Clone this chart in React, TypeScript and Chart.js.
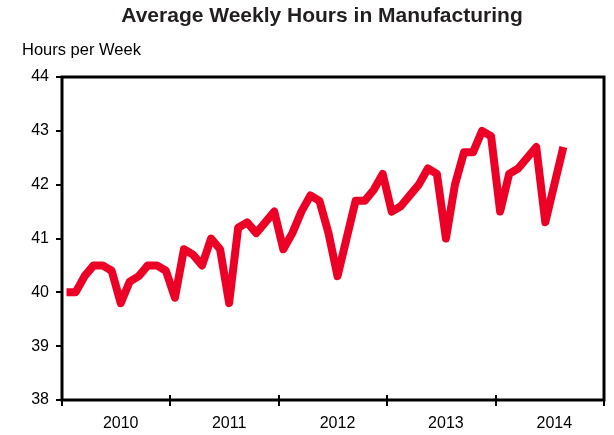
import React, { useEffect, useRef } from "react";
import { Chart, registerables } from "chart.js";

Chart.register(...registerables);

const years = ["2010", "2011", "2012", "2013", "2014"];
const monthNames = ["Jan", "Feb", "Mar", "Apr", "May", "Jun", "Jul", "Aug", "Sep", "Oct", "Nov", "Dec"];
const hours = [
  40.0, 40.0, 40.3, 40.5, 40.5, 40.4, 39.8, 40.2, 40.3, 40.5, 40.5, 40.4,
  39.9, 40.8, 40.7, 40.5, 41.0, 40.8, 39.8, 41.2, 41.3, 41.1, 41.3, 41.5,
  40.8, 41.1, 41.5, 41.8, 41.7, 41.1, 40.3, 41.0, 41.7, 41.7, 41.9, 42.2,
  41.5, 41.6, 41.8, 42.0, 42.3, 42.2, 41.0, 42.0, 42.6, 42.6, 43.0, 42.9,
  41.5, 42.2, 42.3, 42.5, 42.7, 41.3, 42.0, 42.7,
];
const yTicks = [38, 39, 40, 41, 42, 43, 44];
const titleText = "Average Weekly Hours in Manufacturing";
const yAxisTitle = "Hours per Week";

const monthLabels: string[] = [];
years.forEach((y) => monthNames.forEach((m) => monthLabels.push(m + " " + y)));

const FONT = "'Liberation Sans', Arial, Helvetica, sans-serif";

export default function App() {
  const ref = useRef<HTMLCanvasElement | null>(null);

  useEffect(() => {
    document.body.style.margin = "0";
    const canvas = ref.current;
    if (!canvas) return;

    const framePlugin = {
      id: "frameAndText",
      afterDraw(chart: any) {
        const { ctx, chartArea } = chart;
        const { left, right, top, bottom } = chartArea;
        ctx.save();
        // frame
        ctx.strokeStyle = "#000";
        ctx.lineWidth = 3;
        ctx.strokeRect(left, top, right - left, bottom - top);
        // x year boundary ticks
        const xs = chart.scales.x;
        const n = monthLabels.length;
        const step = (xs.getPixelForValue(1) - xs.getPixelForValue(0));
        ctx.lineWidth = 2;
        for (let i = 0; i <= n; i += 12) {
          const px = Math.round(xs.getPixelForValue(i) - step / 2);
          ctx.beginPath();
          ctx.moveTo(px, bottom - 5);
          ctx.lineTo(px, bottom + 6);
          ctx.stroke();
        }
        // title
        ctx.fillStyle = "#231f20";
        ctx.font = `bold 21px ${FONT}`;
        ctx.textAlign = "center";
        ctx.textBaseline = "alphabetic";
        ctx.fillText(titleText, 322, 22);
        // y axis title
        ctx.fillStyle = "#000";
        ctx.font = `16.5px ${FONT}`;
        ctx.textAlign = "left";
        ctx.fillText(yAxisTitle, 22, 55);
        ctx.restore();
      },
    };

    const chart = new Chart(canvas, {
      type: "line",
      data: {
        labels: monthLabels,
        datasets: [
          {
            data: hours,
            borderColor: "#ED0026",
            borderWidth: 8,
            pointRadius: 0,
            tension: 0,
            borderJoinStyle: "round",
            borderCapStyle: "butt",
            fill: false,
          },
        ],
      },
      options: {
        animation: false,
        responsive: false,
        maintainAspectRatio: false,
        layout: { padding: { left: 0, top: 77, right: 10, bottom: 0 } },
        plugins: {
          legend: { display: false },
          title: { display: false },
          tooltip: { enabled: false },
        },
        scales: {
          x: {
            type: "category",
            offset: true,
            grid: { display: false, drawTicks: false },
            border: { display: false },
            ticks: {
              autoSkip: false,
              maxRotation: 0,
              minRotation: 0,
              padding: 14,
              color: "#000",
              font: { family: FONT, size: 16 },
              callback: (_v: any, index: number) =>
                index % 12 === 6 ? years[Math.floor(index / 12)] : "",
            },
            afterFit: (scale: any) => {
              scale.height = 35;
            },
          },
          y: {
            type: "linear",
            min: 38,
            max: 44,
            afterBuildTicks: (scale: any) => {
              scale.ticks = yTicks.map((v) => ({ value: v }));
            },
            grid: {
              drawOnChartArea: false,
              drawTicks: true,
              tickLength: 6,
              color: "#000",
              lineWidth: 2,
            },
            border: { display: false },
            ticks: {
              padding: 7,
              color: "#000",
              font: { family: FONT, size: 16 },
            },
            afterFit: (scale: any) => {
              scale.width = 62;
            },
          },
        },
      },
      plugins: [framePlugin],
    } as any);

    return () => chart.destroy();
  }, []);

  return (
    <div style={{ width: 614, height: 435 }}>
      <canvas ref={ref} width={614} height={435} style={{ display: "block" }} />
    </div>
  );
}
